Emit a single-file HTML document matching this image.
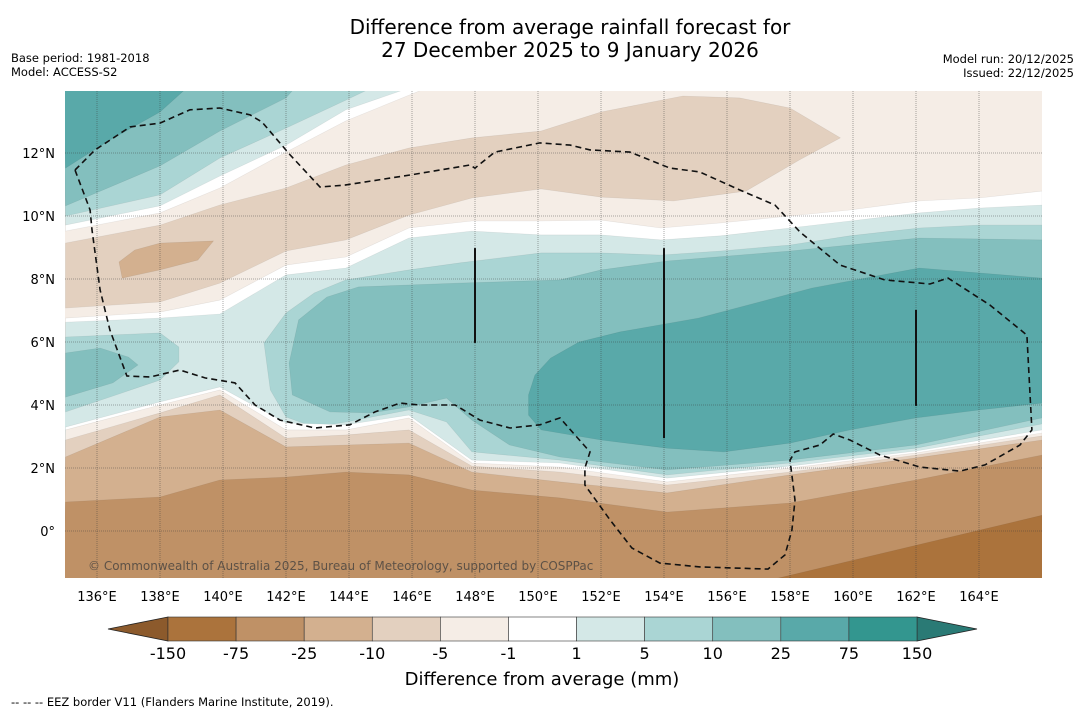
<!DOCTYPE html>
<html><head><meta charset="utf-8"><style>
body{margin:0;background:#fff;width:1085px;height:713px;overflow:hidden;font-family:"DejaVu Sans","Liberation Sans",sans-serif}
svg{position:absolute;left:0;top:0;font-family:"DejaVu Sans","Liberation Sans",sans-serif}
</style></head><body>
<svg id="chart" width="1085" height="713" xmlns="http://www.w3.org/2000/svg">
<text x="570" y="34" text-anchor="middle" font-size="20" fill="#000">Difference from average rainfall forecast for</text>
<text x="570" y="57" text-anchor="middle" font-size="20" fill="#000">27 December 2025 to 9 January 2026</text>
<text x="11" y="62" font-size="11.5">Base period: 1981-2018</text>
<text x="11" y="76" font-size="11.5">Model: ACCESS-S2</text>
<text x="1074" y="63" font-size="11.5" text-anchor="end">Model run: 20/12/2025</text>
<text x="1074" y="77" font-size="11.5" text-anchor="end">Issued: 22/12/2025</text>
<g id="map"></g>
<g id="axes"></g>
<g id="cbar"></g>
<text x="542" y="685" text-anchor="middle" font-size="18">Difference from average (mm)</text>
<text x="11" y="706" font-size="11.5">--  --  -- EEZ border V11 (Flanders Marine Institute, 2019).</text>
</svg>
<script>
// ---- data ----
const lonTicks=[136,138,140,142,144,146,148,150,152,154,156,158,160,162,164];
const latTicks=[0,2,4,6,8,10,12];
const levels=["-150","-75","-25","-10","-5","-1","1","5","10","25","75","150"];
const binColors=["#ab733c","#bf9166","#d3b08f","#e3d0bf","#f5ede6","#ffffff","#d4e8e7","#aad5d4","#83bfbe","#59a9a9","#33968f"];
const lowColor="#8c5a2c", highColor="#2a7a75";
const northLon=[135,138,139.9,142,143.9,145.9,147.9,150.1,152,153.9,155.8,158,159.9,162.1,164,166];
const northWhiteTop=[6.76,6.95,7.33,8.44,8.70,9.62,9.84,9.84,9.87,9.62,9.78,10.00,10.19,10.48,10.57,10.79];
const north1to5Top=[6.63,6.76,6.89,8.13,8.35,9.30,9.52,9.40,9.40,9.24,9.37,9.62,9.84,10.10,10.25,10.35];
const southLon=[135,138,139.9,142,143.9,145.9,147.9,150.7,154.1,158,162,166];
const south1to5Bottom=[3.30,4.10,4.57,3.43,3.37,3.68,2.25,2.16,1.68,2.06,2.54,3.21];
const southMinus1=[3.21,4.00,4.48,3.21,3.21,3.59,2.16,2.03,1.56,2.00,2.48,3.11];
const southMinus5=[2.89,3.75,4.32,2.95,3.05,3.21,2.06,1.87,1.46,1.87,2.41,3.02];
const southMinus10=[2.35,3.62,3.84,2.67,2.73,2.79,1.87,1.56,1.21,1.78,2.32,2.89];
const southMinus25=[0.92,1.08,1.62,1.71,1.87,1.78,1.30,1.05,0.60,0.89,1.62,2.41];
const southMinus75=[[157.6,-1.5],[166,0.5]];
const nwWhite=[[135,9.52],[138,10.10],[139.9,10.89],[142,12.03],[143.9,13.02],[146.8,14.2]];
const nw1to5=[[135,9.71],[138,10.32],[139.9,11.27],[142,12.25],[143.9,13.37],[146.3,14.2]];
const nw5to10=[[135,10],[138,10.67],[139.9,11.84],[142,12.79],[143.9,13.68],[145,14.2]];
const nw10to25=[[135,10.32],[138,11.59],[139.9,12.70],[142,13.75],[142.4,14.2]];
const nw25to75=[[135,11.52],[136.4,12.41],[138,13.30],[139,14.2]];
const dryNorth=[[135,9.14],[138,9.71],[139.9,10.35],[142,10.89],[143.9,11.62],[145.9,12.16],[147.9,12.48],[150.1,12.70],[152,13.30],[154.6,13.81],[156.4,13.75],[158,13.43],[159.6,12.48],[158.3,11.78],[156.6,10.79],[154.3,10.48],[152,10.60],[150.1,10.86],[147.9,10.57],[145.9,10.03],[143.9,9.24],[142,8.89],[139.9,7.87],[138,7.27],[135,7.08]];
const dryNorthCore=[[136.7,8.54],[137.2,8.92],[138,9.14],[139.7,9.21],[139.2,8.60],[138,8.29],[136.8,8.03]];
const wetWest5=[[135,6.16],[138,6.29],[138.6,5.84],[138.6,5.37],[138,4.79],[136.4,4.25],[135,3.78]];
const wetWest10=[[135,5.65],[136.1,5.81],[137,5.52],[137.3,5.27],[136.5,4.70],[135,4.25]];
const wetCentre5=[[141.3,5.97],[142,6.92],[142.9,7.56],[143.9,7.97],[145.9,8.29],[147.5,8.51],[150.1,8.83],[152,8.83],[153.9,8.76],[155.8,8.89],[158,9.08],[159.9,9.37],[162.1,9.62],[164,9.71],[166,9.71],[166,3.40],[162,2.63],[158,2.16],[154.1,1.78],[150.7,2.25],[147.9,2.51],[147.1,3.46],[145.9,3.84],[143.9,3.46],[142.9,3.30],[142,3.62],[141.5,4.48]];
const wetCentre10=[[142.1,5.33],[142.4,6.70],[143.3,7.43],[144.3,7.75],[147.5,7.87],[150.7,7.97],[152,8.29],[154.1,8.57],[158,8.89],[162.1,9.30],[166,9.24],[166,3.59],[162,2.73],[158,2.25],[154.1,1.94],[150.7,2.35],[149.1,2.73],[147.9,3.52],[147.1,4.22],[145.9,3.94],[144.7,3.75],[143.4,3.78],[142.2,4.32]];
const wetCentre25=[[149.7,3.68],[149.7,4.32],[149.9,4.95],[150.4,5.49],[151.3,6.00],[152.6,6.32],[155.1,6.76],[158.7,7.71],[162.1,8.35],[166,8.03],[166,4.06],[164,3.84],[162,3.59],[159.9,3.21],[158,2.79],[155.9,2.51],[154.1,2.63],[152,2.89],[150.1,3.21]];
const eez=[[135.30,11.46],[135.94,12.10],[137.05,12.83],[138.00,12.95],[138.95,13.37],[139.90,13.43],[140.86,13.21],[141.24,12.98],[142.13,11.94],[143.08,10.92],[143.87,10.98],[145.94,11.30],[147.84,11.62],[148.00,11.52],[148.63,12.03],[150.06,12.32],[151.02,12.25],[151.65,12.10],[152.92,12.03],[154.19,11.52],[155.13,11.40],[156.40,10.83],[157.52,10.35],[158.32,9.49],[159.59,8.44],[161.01,7.97],[162.44,7.84],[163.02,8.03],[164.35,7.17],[165.52,6.22],[165.68,3.21],[165.30,2.73],[164.19,2.10],[163.40,1.90],[162.13,2.03],[160.86,2.41],[159.90,2.89],[159.37,3.08],[158.95,2.73],[158.16,2.51],[158.00,2.25],[158.16,0.98],[158.06,0.03],[157.84,-0.76],[157.30,-1.21],[155.14,-1.14],[153.87,-1.02],[152.98,-0.54],[152.29,0.35],[151.49,1.46],[151.49,2.00],[151.65,2.51],[151.17,3.05],[150.70,3.59],[150.06,3.37],[149.11,3.27],[148.16,3.52],[147.37,4.00],[146.25,4.00],[145.62,4.06],[144.83,3.78],[144.03,3.37],[142.92,3.27],[141.81,3.52],[141.02,4.00],[140.38,4.70],[139.43,4.86],[138.63,5.11],[137.68,4.89],[136.95,4.92],[136.41,6.38],[136.10,7.65],[135.84,9.56],[135.78,10.19],[135.30,11.46]];
const eezSegments=[[[148,8.98],[148,5.97]],[[154,8.98],[154,2.95]],[[162,7.02],[162,3.97]]];

// ---- axis functions ----
const X0=65.5,Y0=531,K=31.5,LON0=135,LEFT=65,RIGHT=1042,TOP=91,BOT=578;
const sx=lon=>X0+(lon-LON0)*K;
const sy=lat=>Y0-lat*K;
const NS="http://www.w3.org/2000/svg";
const map=document.getElementById('map');
function mk(tag,parent){const e=document.createElementNS(NS,tag);parent.appendChild(e);return e;}
function pts(arr){return arr.map(p=>sx(p[0]).toFixed(1)+","+sy(p[1]).toFixed(1)).join(" ");}
function zip(lons,lats){return lons.map((l,i)=>[l,lats[i]]);}
function poly(points,fill,name){
  const p=mk('polygon',map);
  p.setAttribute('points',points);p.setAttribute('fill',fill);
  p.setAttribute('stroke','rgba(0,0,0,0.08)');p.setAttribute('stroke-width','0.6');
  
  
}
function below(curve,fill,name){poly(pts(curve)+` ${RIGHT+2},${BOT+5} ${LEFT-2},${BOT+5}`,fill,name);}
function aboveLeft(curve,fill,name){poly(pts(curve)+` ${LEFT-2},${TOP-5}`,fill,name);}

const clip=mk('clipPath',map);clip.setAttribute('id','mc');
const cr=mk('rect',clip);cr.setAttribute('x',LEFT);cr.setAttribute('y',TOP);cr.setAttribute('width',RIGHT-LEFT);cr.setAttribute('height',BOT-TOP);
map.setAttribute('clip-path','url(#mc)');
const bg=mk('rect',map);bg.setAttribute('x',LEFT);bg.setAttribute('y',TOP);bg.setAttribute('width',RIGHT-LEFT);bg.setAttribute('height',BOT-TOP);bg.setAttribute('fill',binColors[4]);



aboveLeft(nwWhite,binColors[5],'nw-white');
aboveLeft(nw1to5,binColors[6],'nw-1-to-5');
aboveLeft(nw5to10,binColors[7],'nw-5-to-10');
aboveLeft(nw10to25,binColors[8],'nw-10-to-25');
aboveLeft(nw25to75,binColors[9],'nw-25-to-75');
poly(pts(dryNorth),binColors[3],'dry-north-minus5');
poly(pts(dryNorthCore),binColors[2],'dry-north-minus10');
below(zip(northLon,northWhiteTop),binColors[5],'central-white');
below(zip(northLon,north1to5Top),binColors[6],'central-1-to-5');
poly(pts(wetWest5),binColors[7],'west-5-to-10');
poly(pts(wetWest10),binColors[8],'west-10-to-25');
poly(pts(wetCentre5),binColors[7],'centre-5-to-10');
poly(pts(wetCentre10),binColors[8],'centre-10-to-25');
poly(pts(wetCentre25),binColors[9],'centre-25-to-75');
below(zip(southLon,south1to5Bottom),binColors[5],'south-white');
below(zip(southLon,southMinus1),binColors[4],'south-minus1');
below(zip(southLon,southMinus5),binColors[3],'south-minus5');
below(zip(southLon,southMinus10),binColors[2],'south-minus10');
below(zip(southLon,southMinus25),binColors[1],'south-minus25');
below(southMinus75,binColors[0],'south-minus75');

lonTicks.forEach(l=>{const g=mk('line',map);g.setAttribute('x1',sx(l));g.setAttribute('x2',sx(l));g.setAttribute('y1',TOP);g.setAttribute('y2',BOT);g.setAttribute('stroke','rgba(60,60,60,0.55)');g.setAttribute('stroke-width','0.8');g.setAttribute('stroke-dasharray','1,1');

});
latTicks.forEach(l=>{const g=mk('line',map);g.setAttribute('y1',sy(l));g.setAttribute('y2',sy(l));g.setAttribute('x1',LEFT);g.setAttribute('x2',RIGHT);g.setAttribute('stroke','rgba(60,60,60,0.55)');g.setAttribute('stroke-width','0.8');g.setAttribute('stroke-dasharray','1,1');

});
const ez=mk('polyline',map);ez.setAttribute('points',pts(eez));ez.setAttribute('fill','none');ez.setAttribute('stroke','#111');ez.setAttribute('stroke-width','1.6');ez.setAttribute('stroke-dasharray','6,4');


eezSegments.forEach(s=>{const l=mk('polyline',map);l.setAttribute('points',pts(s));l.setAttribute('stroke','#111');l.setAttribute('stroke-width','2');l.setAttribute('fill','none');

});
const cp=mk('text',map);cp.textContent='© Commonwealth of Australia 2025, Bureau of Meteorology, supported by COSPPac';
cp.setAttribute('x',88);cp.setAttribute('y',570);cp.setAttribute('font-size','12');cp.setAttribute('fill','rgba(60,60,60,0.75)');



const axes=document.getElementById('axes');
lonTicks.forEach(l=>{const t=mk('text',axes);t.textContent=l+'°E';t.setAttribute('x',sx(l));t.setAttribute('y',601);t.setAttribute('text-anchor','middle');t.setAttribute('font-size','13');

});
latTicks.forEach(l=>{const t=mk('text',axes);t.textContent=l===0?'0°':l+'°N';t.setAttribute('x',55);t.setAttribute('y',sy(l)+5);t.setAttribute('text-anchor','end');t.setAttribute('font-size','13');

});

const cb=document.getElementById('cbar');
const CB0=168,CB1=917,CBT=617,CBB=641,W=(CB1-CB0)/binColors.length;
const lt=mk('polygon',cb);lt.setAttribute('points',`${CB0},${CBT} 108,${(CBT+CBB)/2} ${CB0},${CBB}`);lt.setAttribute('fill',lowColor);lt.setAttribute('stroke','#222');lt.setAttribute('stroke-width','0.8');


const rt=mk('polygon',cb);rt.setAttribute('points',`${CB1},${CBT} 977,${(CBT+CBB)/2} ${CB1},${CBB}`);rt.setAttribute('fill',highColor);rt.setAttribute('stroke','#222');rt.setAttribute('stroke-width','0.8');


binColors.forEach((c,i)=>{const r=mk('rect',cb);r.setAttribute('x',CB0+i*W);r.setAttribute('y',CBT);r.setAttribute('width',W);r.setAttribute('height',CBB-CBT);r.setAttribute('fill',c);r.setAttribute('stroke','#333');r.setAttribute('stroke-width','0.6');

});
levels.forEach((lv,i)=>{const t=mk('text',cb);t.textContent=lv;t.setAttribute('x',CB0+i*W);t.setAttribute('y',659);t.setAttribute('text-anchor','middle');t.setAttribute('font-size','16');

});
</script>
</body></html>
